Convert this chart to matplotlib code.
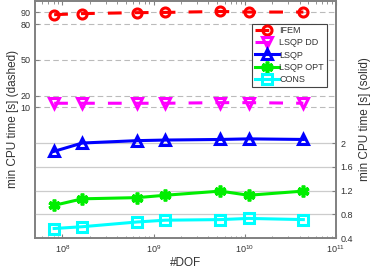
import numpy as np
import matplotlib
matplotlib.use("Agg")
import matplotlib.pyplot as plt
from matplotlib.ticker import LogLocator, NullFormatter

plt.rcParams['font.family'] = ['Liberation Sans', 'DejaVu Sans']
plt.rcParams['mathtext.fontset'] = 'custom'
plt.rcParams['mathtext.rm'] = 'Liberation Sans'

dof = [8.1e7, 1.65e8, 6.6e8, 1.34e9, 5.4e9, 1.1e10, 4.4e10]

# dashed series (left axis)
ifem = [88.1, 89.0, 89.8, 90.0, 90.8, 90.3, 90.3]
lsqp_dd = [13.5, 13.5, 13.5, 13.5, 14.0, 14.0, 13.5]

# solid series (right axis)
lsqp = [1.86, 2.00, 2.04, 2.05, 2.06, 2.07, 2.06]
lsqp_opt = [0.95, 1.06, 1.08, 1.12, 1.19, 1.12, 1.19]
cons = [0.56, 0.59, 0.67, 0.70, 0.71, 0.73, 0.71]

left_ticks = [10, 20, 50, 80, 90]
right_ticks = [0.4, 0.8, 1.2, 1.6, 2]

gray = '#808080'
txt = '#333333'

fig = plt.figure(figsize=(3.74, 2.72), dpi=100)
ax = fig.add_axes([0.094, 0.125, 0.804, 0.873])
ax2 = ax.twinx()

lw = 2.2
dash = (4.5, 4.3)
h1, = ax.plot(dof, ifem, color='red', lw=lw, dashes=dash, marker='o', ms=6.5,
              mfc='none', mew=2.2, label='IFEM')
h2, = ax.plot(dof, lsqp_dd, color='magenta', lw=lw, dashes=dash, marker='v', ms=7.5,
              mfc='none', mew=2.2, label='LSQP DD')
h3, = ax2.plot(dof, lsqp, color='blue', lw=lw, marker='^', ms=7.5,
               mfc='none', mew=2.2, label='LSQP')
h4, = ax2.plot(dof, lsqp_opt, color='#00ee00', lw=lw, marker=(6, 2, 0), ms=8.5,
               mew=2.6, label='LSQP OPT')
h5, = ax2.plot(dof, cons, color='cyan', lw=lw, marker='s', ms=6.5,
               mfc='none', mew=2.2, label='CONS')

ax.set_xscale('log')
ax.set_xlim(10**7.7, 1e11)
ax.xaxis.set_major_locator(LogLocator(base=10, numticks=10))
ax.xaxis.set_minor_locator(LogLocator(base=10, subs=np.arange(2, 10), numticks=10))
ax.xaxis.set_minor_formatter(NullFormatter())

ax.set_ylim(-100, 100)
ax.set_yticks(left_ticks)
ax.yaxis.grid(True, color='#bbbbbb', ls=(0, (5, 3)), lw=0.8)
ax2.set_ylim(0.4, 4.4)
ax2.set_yticks(right_ticks)
ax2.set_yticklabels(['0.4', '0.8', '1.2', '1.6', '2'])
ax2.yaxis.grid(True, color='#cccccc', lw=0.9)
ax.set_axisbelow(True)
ax2.set_axisbelow(True)

for a in (ax, ax2):
    for s in a.spines.values():
        s.set_color(gray)
        s.set_linewidth(1.2)
    a.tick_params(which='both', direction='in', colors=gray, labelcolor=txt,
                  labelsize=6.5, top=True)
    a.tick_params(which='major', length=3)
    a.tick_params(which='minor', length=1.8)
ax.tick_params(axis='y', right=False)
ax2.tick_params(axis='y', left=False)

ax.set_xlabel('#DOF', fontsize=8.5, color=txt, labelpad=2)
ax.set_ylabel('min CPU time [s] (dashed)', fontsize=8.5, color=txt, labelpad=1)
ax2.set_ylabel('min CPU time [s] (solid)', fontsize=8.5, color=txt, labelpad=4)

leg = ax2.legend(handles=[h1, h2, h3, h4, h5], loc='upper right',
                 bbox_to_anchor=(0.97, 0.903), fontsize=6.5, frameon=True,
                 fancybox=False, edgecolor='#444444', framealpha=1,
                 handlelength=2.6, handletextpad=0.1, labelspacing=0.35,
                 borderpad=0.3, borderaxespad=0)
leg.get_frame().set_linewidth(0.8)
for t in leg.get_texts():
    t.set_color(txt)

fig.savefig('out.png', dpi=100)
